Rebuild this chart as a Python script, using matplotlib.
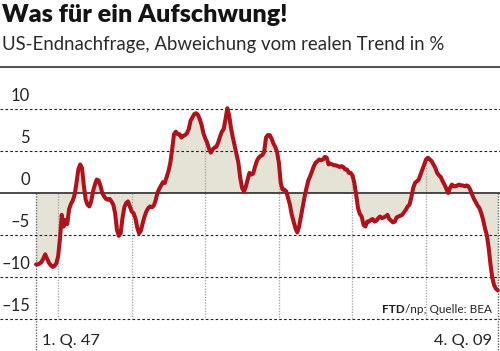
import numpy as np
import matplotlib
matplotlib.use('Agg')
import matplotlib.pyplot as plt

# ---------------- data ----------------
first_year = 1947
values = [
    -8.5, -8.5, -8.4, -8.2, -7.8, -7.3, -7.8, -8.3, -8.6, -8.8,
    -8.7, -8.4, -7.6, -5.5, -2.6, -4.0, -3.2, -3.7, -1.9, -1.3,
    -0.9, -0.2, 1.2, 2.8, 3.4, 3.0, 0.9, -0.8, -1.4, -1.6,
    -1.0, 0.2, 1.0, 1.6, 1.5, 0.9, 0.0, -0.4, -0.7, -0.8,
    -0.7, -1.0, -1.4, -2.4, -4.4, -5.1, -4.8, -3.0, -1.7, -1.2,
    -1.0, -1.6, -2.2, -2.4, -3.0, -4.1, -4.8, -4.5, -3.6, -2.8,
    -2.2, -1.8, -1.6, -1.7, -1.5, -0.9, 0.0, 0.5, 0.9, 1.3,
    1.2, 1.9, 2.6, 3.6, 5.2, 7.0, 7.3, 7.0, 7.0, 6.6,
    6.8, 6.9, 7.1, 7.6, 8.6, 9.0, 9.4, 9.5, 9.3, 8.8,
    8.1, 7.1, 6.5, 6.0, 5.3, 4.8, 5.2, 5.4, 5.5, 6.0,
    6.7, 7.3, 7.6, 8.8, 10.1, 9.2, 7.7, 6.6, 5.6, 4.6,
    3.6, 1.8, 0.6, 0.2, 0.7, 1.6, 2.4, 2.2, 2.3, 3.1,
    3.8, 4.2, 4.4, 4.5, 4.9, 6.6, 6.9, 6.9, 6.5, 5.9,
    5.5, 4.9, 3.6, 1.2, 0.4, 0.4, 0.2, -0.6, -1.4, -2.6,
    -3.4, -4.2, -4.7, -4.0, -2.8, -1.6, -0.4, 0.6, 1.5, 2.0,
    2.6, 3.2, 3.6, 3.8, 4.0, 3.9, 4.0, 4.3, 4.2, 3.4,
    3.5, 3.4, 3.3, 3.3, 3.2, 3.1, 3.2, 3.1, 2.8, 2.8,
    2.4, 2.4, 2.1, 1.2, -0.2, -1.8, -2.5, -2.8, -3.8, -4.0,
    -3.4, -3.4, -3.2, -3.1, -3.4, -3.3, -3.0, -2.8, -3.0, -2.9,
    -2.8, -2.6, -3.1, -3.3, -3.5, -3.4, -2.9, -2.8, -2.7, -2.6,
    -2.3, -2.0, -1.6, -1.4, -0.5, 0.6, 1.2, 1.4, 1.6, 2.2,
    2.8, 3.4, 4.0, 4.2, 4.0, 3.8, 3.4, 3.0, 2.4, 2.1,
    1.9, 1.4, 1.0, 0.5, 0.0, 0.6, 1.0, 0.8, 0.8, 0.9,
    1.0, 0.9, 0.9, 0.8, 0.9, 0.8, 0.4, -0.2, -0.7, -1.1,
    -1.5, -1.8, -2.4, -3.2, -4.2, -5.0, -6.5, -8.5, -10.1, -11.0,
    -11.4, -11.6,
]
ytick_values = [10, 5, 0, -5, -10, -15]
ytick_labels = ["10", "5", "0", "–5", "–10", "–15"]
decade_years = [1950, 1960, 1970, 1980, 1990, 2000]
start_label = "1. Q. 47"
end_label = "4. Q. 09"
title = "Was für ein Aufschwung!"
subtitle = "US-Endnachfrage, Abweichung vom realen Trend in %"
source_bold = "FTD"
source_rest = "/np; Quelle: BEA"

# ---------------- layout ----------------
W, H = 500, 351
fig = plt.figure(figsize=(W / 100, H / 100), dpi=100)
top_px = 67
ax = fig.add_axes([0, 0, 1, (H - top_px) / H])
x0_px, px_per_q = 36, 1.84
zero_px, px_per_unit = 193, 8.4
ax.set_xlim(-x0_px / px_per_q, (W - x0_px) / px_per_q)
ymin = (zero_px - H) / px_per_unit
ymax = (zero_px - top_px) / px_per_unit
ax.set_ylim(ymin, ymax)
ax.axis('off')

v = np.array(values)
q = np.arange(len(v))

LINE = '#b0121b'
FILL = '#e5e3d6'

ax.fill_between(q, v, 0, color=FILL, lw=0, zorder=1)

# vertical decade lines (from curve / zero down to bottom grid)
for yr in decade_years:
    xq = (yr - first_year) * 4
    top = max(np.interp(xq, q, v), 0)
    ax.plot([xq, xq], [top, -15], color='#aaaaaa', lw=1.0,
            ls=(0, (1.0, 1.0)), zorder=2)

# edge lines
for xq in [0, len(v) - 1]:
    ax.plot([xq, xq], [0, ymin], color='#666666', lw=1.0,
            ls=(0, (1.0, 1.0)), zorder=2, clip_on=False)

# horizontal grid
for yv in ytick_values:
    if yv == 0:
        ax.axhline(0, color='#1a1a1a', lw=1.1, zorder=3)
    else:
        ax.axhline(yv, color='#222222', lw=0.8, ls=(0, (2.4, 2.0)), zorder=2)

# top rule
ax.axhline(ymax, color='#333333', lw=1.2, zorder=3, clip_on=False)

ax.plot(q, v, color=LINE, lw=2.9, zorder=4, solid_joinstyle='round',
        solid_capstyle='round')

# ---------------- text ----------------
def fx(px):
    return px / W

def fy(py):
    return 1 - py / H

fig.canvas.draw()
renderer = fig.canvas.get_renderer()

def fit(t, width_px):
    bb = t.get_window_extent(renderer)
    t.set_fontsize(t.get_fontsize() * width_px / bb.width)

fam = ['Lato', 'DejaVu Sans']
TXT = '#222222'

t = fig.text(fx(2), fy(22), title, fontsize=17, fontweight='heavy',
             family=fam, color='#141414', va='baseline', ha='left')
fit(t, 286)
t = fig.text(fx(2), fy(50), subtitle, fontsize=13, fontweight='normal',
             family=fam, color='#2a2a2a', va='baseline', ha='left')
fit(t, 441)

# y labels: size fitted so that the widest one spans x=0..30
probe = fig.text(0, 0, ytick_labels[-1], fontsize=14, family=fam)
fit(probe, 29)
yfs = probe.get_fontsize()
probe.remove()
for yv, lab in zip(ytick_values, ytick_labels):
    py = zero_px - yv * px_per_unit - 13
    fig.text(fx(30), fy(py), lab, fontsize=yfs, fontweight='normal',
             family=fam, color=TXT, va='center', ha='right')

t = fig.text(fx(42), fy(345), start_label, fontsize=14, fontweight='normal',
             family=fam, color=TXT, va='baseline', ha='left')
fit(t, 58)
t2 = fig.text(fx(492), fy(345), end_label, fontsize=t.get_fontsize(),
              fontweight='normal', family=fam, color=TXT,
              va='baseline', ha='right')

ts = fig.text(fx(492), fy(313), source_rest, fontsize=8.5, fontweight='normal',
              family=fam, color=TXT, va='baseline', ha='right')
fig.canvas.draw()
bb = ts.get_window_extent(renderer)
fig.text(bb.x0 / W, fy(313), source_bold, fontsize=8.5, fontweight='bold',
         family=fam, color=TXT, va='baseline', ha='right')

fig.savefig('out.png', dpi=100)
